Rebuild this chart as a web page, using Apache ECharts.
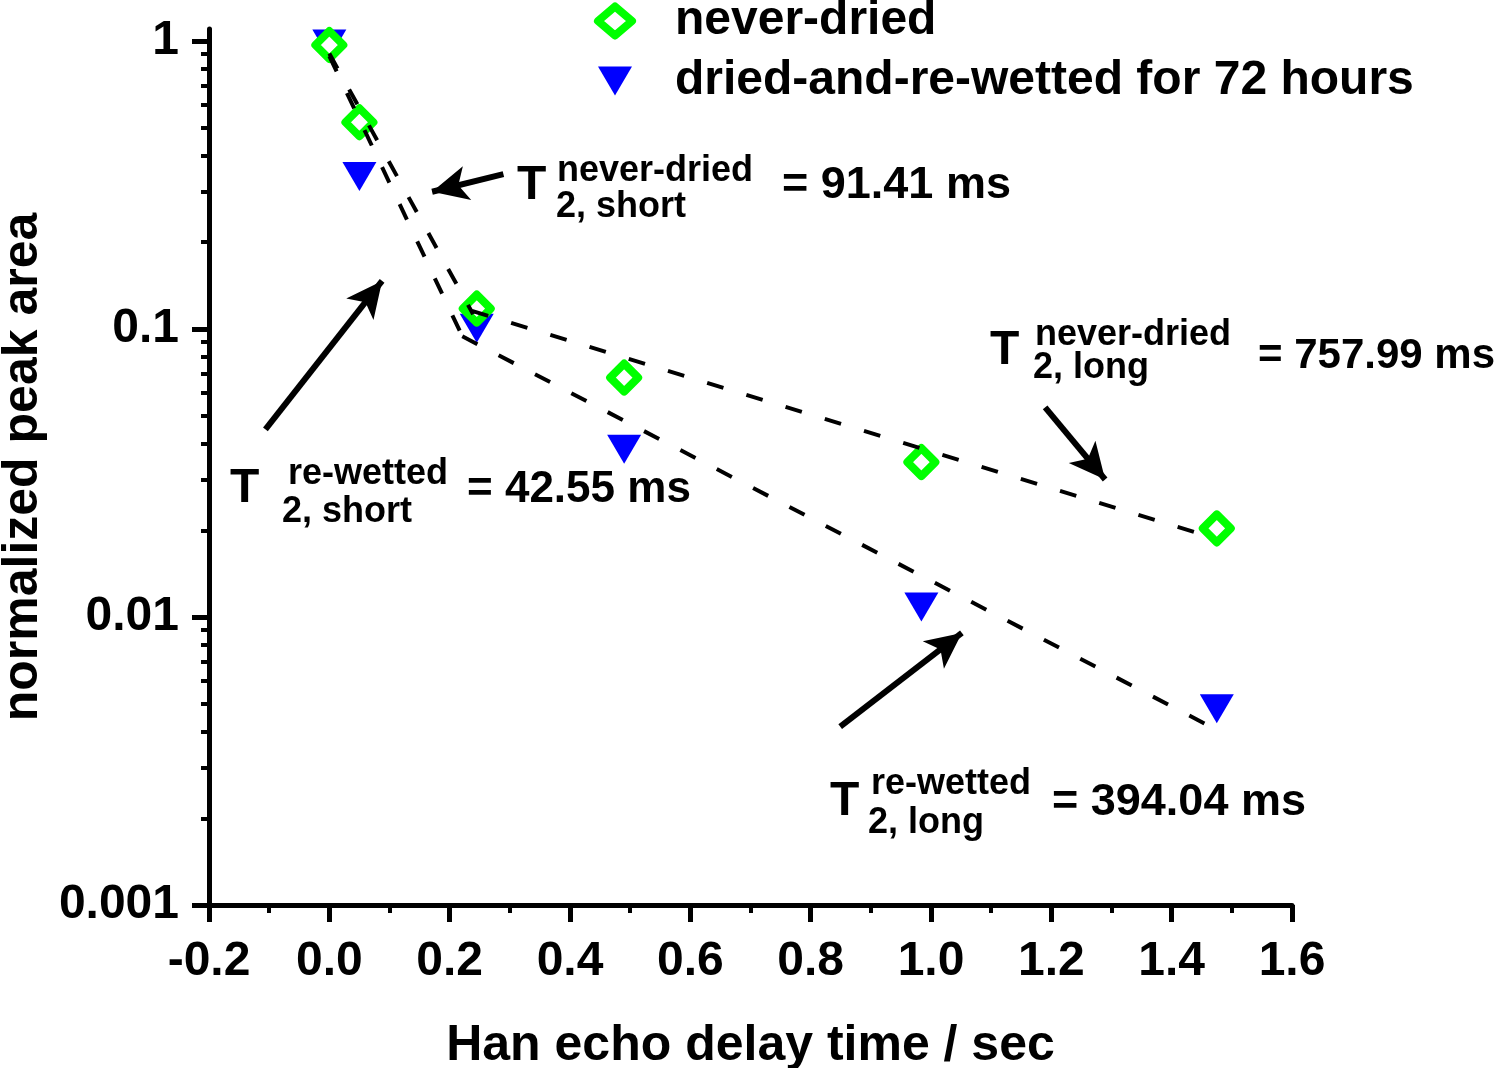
<!DOCTYPE html>
<html><head><meta charset="utf-8">
<script src="https://cdn.jsdelivr.net/npm/echarts@6/dist/echarts.min.js"></script>
<style>html,body{margin:0;padding:0;background:#fff}#c{width:1500px;height:1068px}</style>
</head><body><div id="c"></div>
<script>
// ---- data ----
const delayTimes = [0, 0.05, 0.245, 0.49, 0.984, 1.475];
const neverDried = [0.968, 0.522, 0.1177, 0.0678, 0.0345, 0.0203];
const reWetted   = [0.976, 0.338, 0.1005, 0.0382, 0.01084, 0.0048];
const fitNeverDriedShort = [[0, 0.904], [0.239, 0.1125]];
const fitReWettedShort   = [[0, 0.886], [0.221, 0.0943]];
const fitNeverDriedLong  = [[0.237, 0.1155], [1.464, 0.01898]];
const fitReWettedLong    = [[0.221, 0.0943], [1.487, 0.003934]];
const arrowTails = [[0.2893, 0.3449], [-0.1062, 0.04481], [1.1897, 0.0534], [0.8491, 0.004159]];
const arrowHeads = [[0.1708, 0.2994], [0.0877, 0.1468], [1.2894, 0.03002], [1.0513, 0.00880]];
const yMajorTicks = [0.001, 0.01, 0.1, 1];
const yMinorTicks = [0.002,0.003,0.004,0.005,0.006,0.007,0.008,0.009,
                     0.02,0.03,0.04,0.05,0.06,0.07,0.08,0.09,
                     0.2,0.3,0.4,0.5,0.6,0.7,0.8,0.9];
const seriesNames = ['never-dried', 'dried-and-re-wetted for 72 hours'];
const annotations = [
  ['T', 'never-dried', '2, short', '= 91.41 ms'],
  ['T', 're-wetted', '2, short', '= 42.55 ms'],
  ['T', 'never-dried', '2, long', '= 757.99 ms'],
  ['T', 're-wetted', '2, long', '= 394.04 ms']
];
// layout of annotation pieces (pixel anchors: T, sup, sub, value) and value font size
const annotLayout = [
  [[517,186],[557,171],[556,207],[782,186], 45],
  [[230,489],[288,474],[282,512],[467,490], 44],
  [[990,351],[1035,335],[1033,368],[1258,356], 42],
  [[830,802],[871,784],[868,823],[1052,803], 45]
];

const FONT = '"Liberation Sans", Arial, sans-serif';
function txt(x, y, text, size) {
  return {type:'text', x:x, y:y, z:100, silent:true,
    style:{text:text, font:'bold ' + size + 'px ' + FONT, fill:'#000',
      textAlign:'left', textVerticalAlign:'middle', align:'left', verticalAlign:'middle'}};
}
const graphics = [];
annotations.forEach((a, i) => {
  const L = annotLayout[i];
  graphics.push(txt(L[0][0], L[0][1], a[0], 48));
  graphics.push(txt(L[1][0], L[1][1], a[1], 36));
  graphics.push(txt(L[2][0], L[2][1], a[2], 36));
  graphics.push(txt(L[3][0], L[3][1], a[3], L[4]));
});

const dashStyle = {color:'#000', width:4, type:[17, 24]};
function fitSeries(data) {
  return {type:'line', data:data, showSymbol:false, symbol:'none', silent:true,
    lineStyle:dashStyle, z:5, animation:false};
}
const arrowData = arrowTails.map((t, i) => [{coord:t}, {coord:arrowHeads[i]}]);

const chart = echarts.init(document.getElementById('c'), null, {renderer:'canvas'});
chart.setOption({
  animation:false,
  backgroundColor:'#fff',
  textStyle:{fontFamily:FONT},
  grid:{left:209, right:208, top:29, bottom:163, outerBoundsMode:'none', containLabel:false},
  legend:{
    orient:'vertical', left:594, top:-3, padding:0, itemGap:12,
    itemWidth:34, itemHeight:29,
    textStyle:{fontSize:48, fontWeight:'bold', color:'#000', fontFamily:FONT, lineHeight:48, padding:[0,0,0,38]},
    data:[
      {name:seriesNames[0], itemStyle:{borderWidth:8}},
      {name:seriesNames[1], icon:'path://M0,0L34,0L17,29Z', itemStyle:{borderWidth:0}}
    ]
  },
  xAxis:{
    type:'value', min:-0.2, max:1.6, interval:0.2,
    name:'Han echo delay time / sec', nameLocation:'middle', nameGap:116,
    nameTextStyle:{fontSize:50, fontWeight:'bold', color:'#000', fontFamily:FONT, lineHeight:50},
    axisLine:{onZero:false, lineStyle:{color:'#000', width:5}},
    axisTick:{show:true, length:17, lineStyle:{color:'#000', width:5}},
    minorTick:{show:true, splitNumber:2, length:8, lineStyle:{color:'#000', width:4}},
    axisLabel:{fontSize:48, fontWeight:'bold', color:'#000', fontFamily:FONT, margin:33,
      formatter:function(v){return v.toFixed(1);}},
    splitLine:{show:false}, minorSplitLine:{show:false}
  },
  yAxis:[{
    type:'log', logBase:10, min:0.001, max:1.1,
    name:'normalized peak area', nameLocation:'middle', nameGap:160,
    nameTextStyle:{fontSize:50, fontWeight:'bold', color:'#000', fontFamily:FONT, lineHeight:50},
    axisLine:{onZero:false, lineStyle:{color:'#000', width:5}},
    axisTick:{show:true, length:17, customValues:yMajorTicks, lineStyle:{color:'#000', width:5}},
    axisLabel:{fontSize:48, fontWeight:'bold', color:'#000', fontFamily:FONT, margin:30,
      customValues:yMajorTicks, formatter:function(v){return String(+v.toPrecision(3));}},
    splitLine:{show:false}
  },{
    type:'log', logBase:10, min:0.001, max:1.1, position:'left',
    axisLine:{show:false, onZero:false},
    axisTick:{show:true, length:8, customValues:yMinorTicks, lineStyle:{color:'#000', width:4}},
    axisLabel:{show:false}, splitLine:{show:false}
  }],
  series:[
    {name:seriesNames[0], type:'scatter', symbol:'diamond', symbolSize:28,
      itemStyle:{color:'#fff', borderColor:'#00ff00', borderWidth:8, borderJoin:'round', opacity:1},
      data:delayTimes.map((x,i)=>[x, neverDried[i]]), z:3},
    {name:seriesNames[1], type:'scatter', symbol:'triangle', symbolRotate:180, symbolSize:[34,29],
      itemStyle:{color:'#0000ff', opacity:1},
      data:delayTimes.map((x,i)=>[x, reWetted[i]]), z:2},
    fitSeries(fitNeverDriedShort),
    fitSeries(fitReWettedShort),
    fitSeries(fitNeverDriedLong),
    Object.assign(fitSeries(fitReWettedLong), {
      markLine:{silent:true, symbol:['none','arrow'], symbolSize:[26,36], animation:false,
        label:{show:false}, emphasis:{disabled:true},
        lineStyle:{color:'#000', width:6, type:'solid'}, data:arrowData}
    })
  ],
  graphic:graphics
});
</script>
</body></html>
